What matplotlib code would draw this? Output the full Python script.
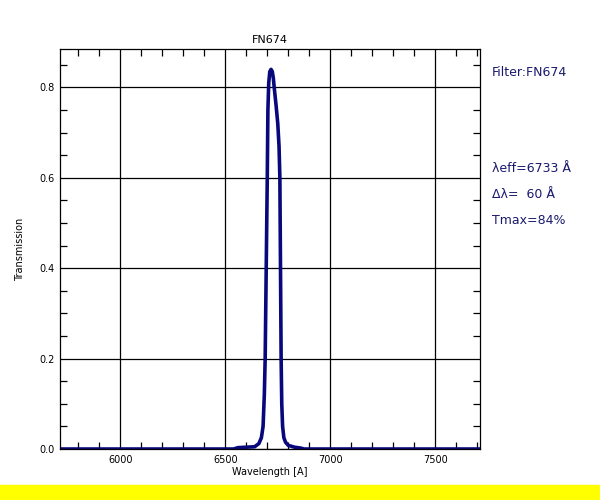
import numpy as np
import matplotlib
matplotlib.use('Agg')
import matplotlib.pyplot as plt
from matplotlib.ticker import MultipleLocator

# filter transmission curve
wavelength = [5713, 6540, 6560, 6640, 6660, 6672, 6680, 6686, 6690, 6695,
              6700, 6703, 6707, 6712, 6718, 6724, 6729, 6733, 6742, 6750,
              6756, 6760, 6763, 6766, 6769, 6773, 6779, 6787, 6800, 6830,
              6860, 6875, 7713]
transmission = [0.0, 0.0, 0.003, 0.005, 0.012, 0.025, 0.05, 0.12, 0.2, 0.4,
                0.6, 0.75, 0.81, 0.835, 0.84, 0.835, 0.82, 0.80, 0.76, 0.72,
                0.67, 0.6, 0.4, 0.2, 0.1, 0.05, 0.025, 0.015, 0.008, 0.004,
                0.002, 0.0, 0.0]

filter_name = 'FN674'
info_lines = ['\u03bbeff=6733 \u00c5', '\u0394\u03bb=  60 \u00c5', 'Tmax=84%']

navy = '#08087c'
text_blue = '#1a1a6e'

fig = plt.figure(figsize=(6, 5), dpi=100)
ax = fig.add_axes([0.1, 0.102, 0.7, 0.8])

ax.plot(wavelength, transmission, color=navy, linewidth=2.6, solid_joinstyle='round')

ax.set_xlim(5713, 7713)
ax.set_ylim(0, 0.885)
ax.xaxis.set_major_locator(MultipleLocator(500))
ax.xaxis.set_minor_locator(MultipleLocator(100))
ax.yaxis.set_major_locator(MultipleLocator(0.2))
ax.yaxis.set_minor_locator(MultipleLocator(0.05))
ax.yaxis.set_major_formatter(plt.FuncFormatter(lambda v, p: '%.1f' % v))
ax.grid(True, which='major', color='black', linewidth=0.9)
ax.tick_params(which='both', direction='in', top=True, right=True,
               labelsize=7, width=0.9)
ax.tick_params(which='major', length=0, pad=4)
ax.tick_params(which='minor', length=5)
for s in ax.spines.values():
    s.set_linewidth(0.9)

ax.set_title(filter_name, fontsize=8, pad=4)
ax.set_xlabel('Wavelength [A]', fontsize=7, labelpad=2)
ax.set_ylabel('Transmission', fontsize=7, labelpad=10)

fig.text(0.82, 0.856, 'Filter:' + filter_name, fontsize=9, color=text_blue, va='center')
for i, line in enumerate(info_lines):
    fig.text(0.82, 0.664 - i * 0.053, line, fontsize=9, color=text_blue, va='center')

# yellow strip along the bottom edge
fig.patches.append(plt.Rectangle((0, 0), 1, 0.03, transform=fig.transFigure,
                                 color='#ffff00', zorder=0))

fig.savefig('out.png', dpi=100)
